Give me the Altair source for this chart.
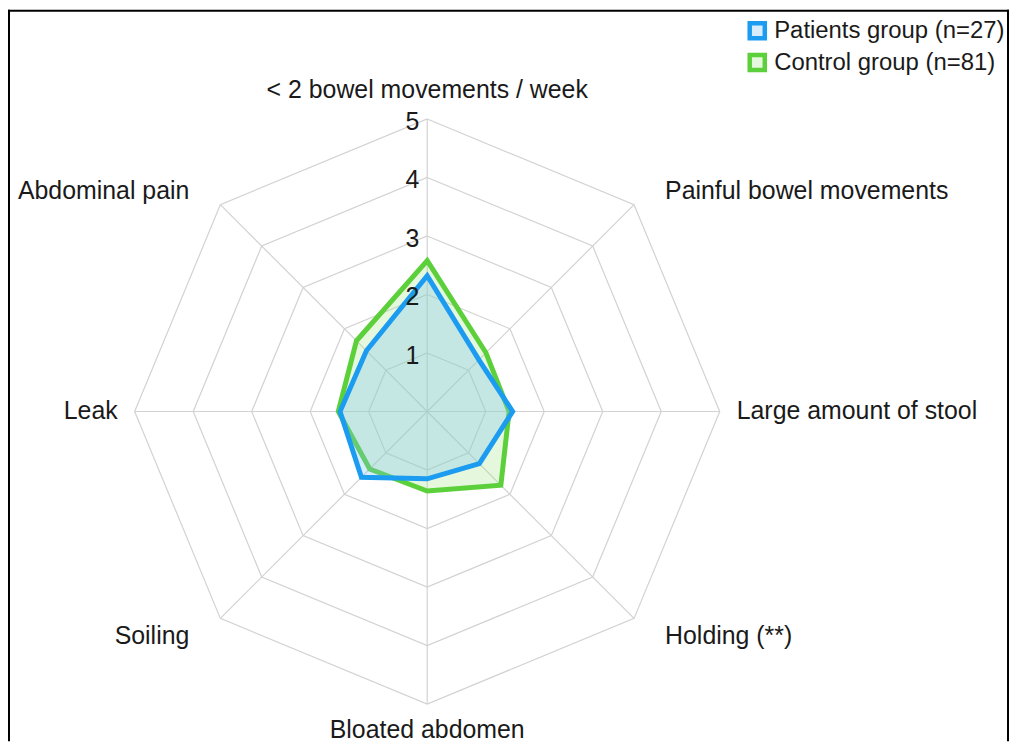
import altair as alt
import pandas as pd

# ---- data ----
categories = [
    "< 2 bowel movements / week",
    "Painful bowel movements",
    "Large amount of stool",
    "Holding (**)",
    "Bloated abdomen",
    "Soiling",
    "Leak",
    "Abdominal pain",
]
patients = [2.32, 1.25, 1.46, 1.26, 1.15, 1.59, 1.49, 1.47]
control = [2.58, 1.42, 1.40, 1.78, 1.36, 1.39, 1.52, 1.71]
levels = [1, 2, 3, 4, 5]
series_names = ["Patients group (n=27)", "Control group (n=81)"]

# ---- style ----
stroke_colors = ["#1C9CF0", "#5CD03A"]
fill_colors = ["rgba(122,197,241,0.3)", "rgba(168,228,142,0.3)"]
FONT = "Liberation Sans"
W, H = 1006, 735
UNIT = 58.8
CX, CY = 421.3, 403.7
xdom = [-CX / UNIT, (W - CX) / UNIT]
ydom = [-(H - CY) / UNIT, CY / UNIT]

n = len(categories)
rows = []
for name, vals in zip(series_names, [patients, control]):
    for i, v in enumerate(vals):
        rows.append({"group": name, "i": i, "value": v})
series_df = pd.DataFrame(rows)

grid_df = pd.DataFrame([{"level": lv, "i": i, "value": lv} for lv in levels for i in range(n)])
spoke_df = pd.DataFrame([{"i": i, "value": max(levels)} for i in range(n)])
label_df = pd.DataFrame([{"i": i, "label": c} for i, c in enumerate(categories)])
level_df = pd.DataFrame({"level": levels, "txt": [str(l) for l in levels]})

xs = alt.Scale(domain=xdom, nice=False, zero=False)
ys = alt.Scale(domain=ydom, nice=False, zero=False)


def polarize(ch):
    return ch.transform_calculate(
        px=f"datum.value * sin(datum.i * 2 * PI / {n})",
        py=f"datum.value * cos(datum.i * 2 * PI / {n})",
    )


X = alt.X("px:Q", scale=xs, axis=None)
Y = alt.Y("py:Q", scale=ys, axis=None)

grid = polarize(alt.Chart(grid_df)).mark_line(
    interpolate="linear-closed", stroke="#d2d2d2", strokeWidth=1.2
).encode(x=X, y=Y, detail="level:N", order="i:Q")

spokes = polarize(alt.Chart(spoke_df)).transform_calculate(zx="0", zy="0").mark_rule(
    stroke="#d2d2d2", strokeWidth=1.2
).encode(x=alt.X("zx:Q", scale=xs, axis=None), y=alt.Y("zy:Q", scale=ys, axis=None), x2="px:Q", y2="py:Q")

legend = alt.Legend(
    title=None, orient="none", legendX=741, legendY=9, symbolType="square",
    symbolSize=230, symbolStrokeWidth=4.5, labelFontSize=24, labelFont=FONT,
    labelColor="#1a1a1a", rowPadding=-2, labelOffset=5, padding=0, labelLimit=0,
)
stroke_enc = alt.Stroke("group:N", scale=alt.Scale(domain=series_names, range=stroke_colors), legend=legend)
fill_enc = alt.Fill("group:N", scale=alt.Scale(domain=series_names, range=fill_colors), legend=legend)


def series_layer(name):
    return polarize(alt.Chart(series_df)).transform_filter(
        alt.datum.group == name
    ).mark_line(
        interpolate="linear-closed", strokeWidth=5, strokeJoin="miter"
    ).encode(x=X, y=Y, stroke=stroke_enc, fill=fill_enc, order="i:Q")


control_layer = series_layer(series_names[1])
patients_layer = series_layer(series_names[0])


def label_base():
    return alt.Chart(label_df).transform_calculate(
        a=f"datum.i * 2 * PI / {n}",
        rx="datum.i % 2 == 1 ? 5.75 : 5.29",
        ry="(datum.i == 1 || datum.i == 7) ? 5.33 : ((datum.i == 3 || datum.i == 5) ? 5.42 : (datum.i == 4 ? 5.45 : 5.5))",
    ).transform_calculate(
        lx="datum.rx * sin(datum.a)", ly="datum.ry * cos(datum.a)"
    )


LX = alt.X("lx:Q", scale=xs, axis=None)
LY = alt.Y("ly:Q", scale=ys, axis=None)
tkw = dict(font=FONT, fontSize=25, color="#1a1a1a", baseline="middle")

lab_right = label_base().transform_filter("datum.i >= 1 && datum.i <= 3").mark_text(align="left", **tkw).encode(x=LX, y=LY, text="label:N")
lab_left = label_base().transform_filter("datum.i >= 5").mark_text(align="right", **tkw).encode(x=LX, y=LY, text="label:N")
lab_center = label_base().transform_filter("datum.i == 0 || datum.i == 4").mark_text(align="center", **tkw).encode(x=LX, y=LY, text="label:N")

lvl = alt.Chart(level_df).transform_calculate(zx="0").mark_text(
    align="right", dx=-8, dy=3, **tkw
).encode(x=alt.X("zx:Q", scale=xs, axis=None), y=alt.Y("level:Q", scale=ys, axis=None), text="txt:N")

frame_df = pd.DataFrame({"k": [0]})
frame_left = alt.Chart(frame_df).mark_rule(color="black", strokeWidth=2).encode(
    x=alt.value(1), y=alt.value(0), y2=alt.value(H))
frame_top = alt.Chart(frame_df).mark_rule(color="black", strokeWidth=2).encode(
    x=alt.value(0), x2=alt.value(W), y=alt.value(1))
frame_right = alt.Chart(frame_df).mark_rule(color="black", strokeWidth=2).encode(
    x=alt.value(W - 1), y=alt.value(0), y2=alt.value(H))

chart = alt.layer(
    grid, spokes, control_layer, patients_layer, lab_right, lab_left, lab_center, lvl,
    frame_left, frame_top, frame_right,
).properties(
    width=W, height=H, padding=0, autosize=alt.AutoSizeParams(type="none")
).configure_view(stroke=None)

chart.save("out.html", embed_options={"renderer": "svg", "actions": False})
